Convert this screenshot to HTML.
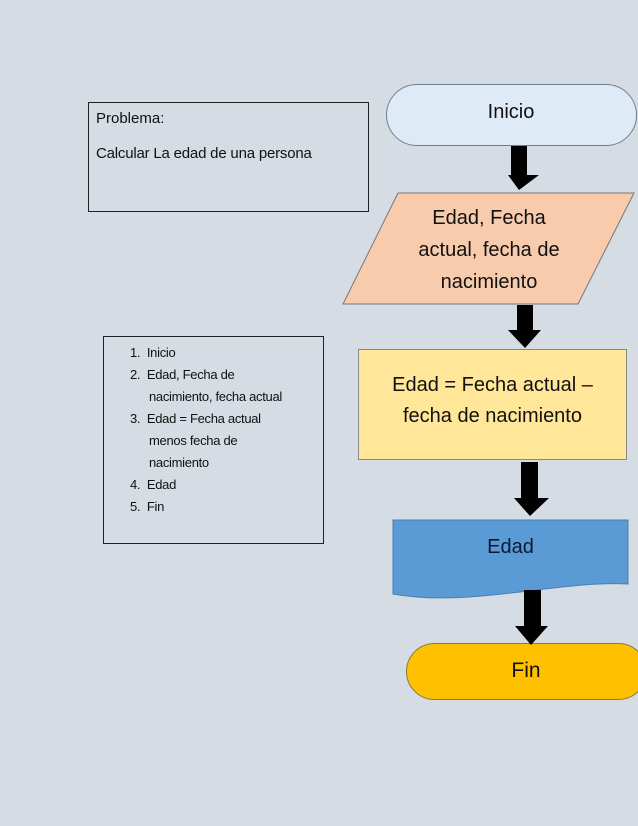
<!DOCTYPE html>
<html><head><style>
body{margin:0;width:638px;height:826px;background:#d6dce4;position:relative;overflow:hidden;font-family:"Liberation Sans",sans-serif;}
.t{position:absolute;color:#111;}
</style></head><body>
<div style="position:absolute;left:88px;top:102px;width:279px;height:108px;border:1px solid #222;"></div>
<div class="t" style="left:96px;top:110px;font-size:15px;">Problema:</div>
<div class="t" style="left:96px;top:145px;font-size:15px;letter-spacing:-0.2px;">Calcular La edad de una persona</div>
<div style="position:absolute;left:103px;top:336px;width:219px;height:206px;border:1px solid #222;"></div>
<div class="t" style="left:130px;top:342px;font-size:13px;line-height:22px;letter-spacing:-0.3px;">
<div>1.&nbsp;&nbsp;Inicio</div>
<div>2.&nbsp;&nbsp;Edad, Fecha de</div>
<div style="padding-left:19px">nacimiento, fecha actual</div>
<div>3.&nbsp;&nbsp;Edad = Fecha actual</div>
<div style="padding-left:19px">menos fecha de</div>
<div style="padding-left:19px">nacimiento</div>
<div>4.&nbsp;&nbsp;Edad</div>
<div>5.&nbsp;&nbsp;Fin</div>
</div>
<svg width="638" height="826" style="position:absolute;left:0;top:0">
<rect x="386.5" y="84.5" width="250" height="61" rx="30.5" fill="#deebf7" stroke="#6b7f99"/>
<polygon points="398,193 634,193 578,304 343,304" fill="#f8cbad" stroke="#777"/>
<rect x="358.5" y="349.5" width="268" height="110" fill="#ffe699" stroke="#888"/>
<path d="M393,520 L628,520 L628,584 C560,580 470,608 393,594 Z" fill="#5b9bd5" stroke="#4a7fb0"/>
<rect x="406.5" y="643.5" width="240" height="56" rx="28" fill="#ffc000" stroke="#8a7a3a"/>
<g fill="#000">
<polygon points="511,146 527,146 527,175 539,175 519,190 508,175 511,175"/>
<polygon points="517,305 533,305 533,330 541,330 525,348 508,330 517,330"/>
<polygon points="521,462 538,462 538,498 549,498 530,516 514,498 521,498"/>
<polygon points="524,590 541,590 541,626 548,626 531,645 515,626 524,626"/>
</g>
</svg>
<div class="t" style="left:386px;top:101px;width:250px;text-align:center;font-size:20px;">Inicio</div>
<div class="t" style="left:370px;top:202px;width:238px;text-align:center;font-size:20px;line-height:32px;">Edad, Fecha<br>actual, fecha de<br>nacimiento</div>
<div class="t" style="left:358px;top:370px;width:269px;text-align:center;font-size:20px;line-height:31px;">Edad = Fecha actual –<br>fecha de nacimiento</div>
<div class="t" style="left:393px;top:536px;width:235px;text-align:center;font-size:20px;color:#0a1a33;">Edad</div>
<div class="t" style="left:406px;top:659px;width:240px;text-align:center;font-size:21px;">Fin</div>
</body></html>
